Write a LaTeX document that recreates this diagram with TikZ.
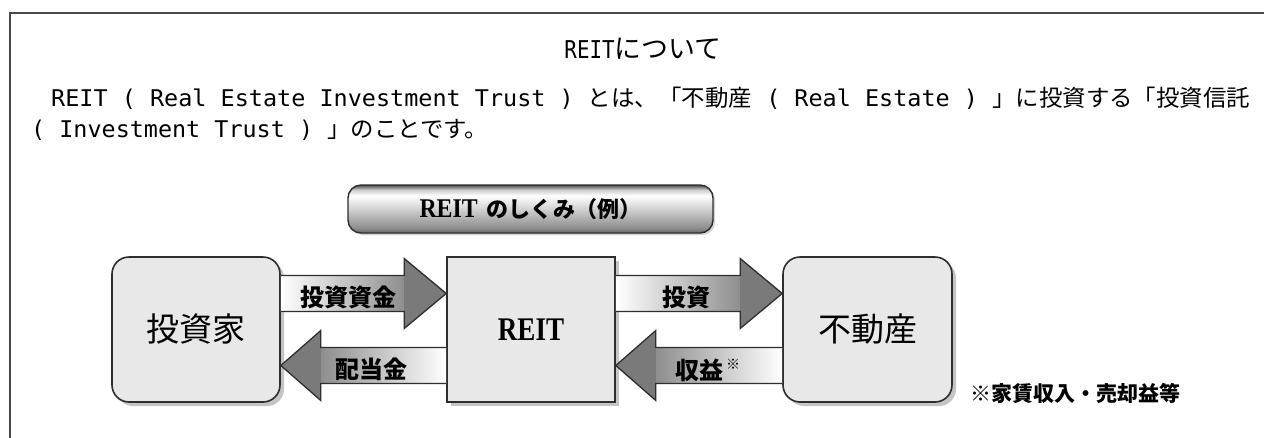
\documentclass[tikz,border=0pt]{standalone}
\usepackage{fontspec}
\usepackage{graphicx}
\usetikzlibrary{calc,shadows}
\newfontfamily\jp{Noto Sans CJK JP}
\newfontfamily\mn{DejaVu Sans Mono}
\newfontfamily\sr{Liberation Serif}
\definecolor{boxfill}{HTML}{E8E8E8}
\definecolor{edgecol}{HTML}{2E2E2E}
\definecolor{headcol}{HTML}{7A7A7A}
\definecolor{shaftend}{HTML}{8E8E8E}
\definecolor{framecol}{HTML}{4A4A4A}
\pgfdeclareverticalshading{pillshade}{100bp}{color(0bp)=(black!60); color(25bp)=(black!60); color(30bp)=(black!45); color(50bp)=(black!18); color(64bp)=(white); color(70bp)=(black!20); color(75bp)=(black!70); color(100bp)=(black!70)}
\newcommand\arrowR[4]{%
  \shade[left color=white,right color=shaftend] ($(#1.east)+(0,#3-18)$) rectangle ($(#2.west)+(-42,#3+18)$);
  \fill[headcol] ($(#2.west)+(-42,#3-35)$) -- ($(#2.west)+(0,#3)$) -- ($(#2.west)+(-42,#3+35)$) -- cycle;
  \draw[arrline] ($(#1.east)+(0,#3-18)$) -- ($(#2.west)+(-42,#3-18)$) -- ($(#2.west)+(-42,#3-35)$) -- ($(#2.west)+(0,#3)$) -- ($(#2.west)+(-42,#3+35)$) -- ($(#2.west)+(-42,#3+18)$) -- ($(#1.east)+(0,#3+18)$);
  \coordinate (#4) at ($(#1.east)!0.5!($(#2.west)+(-42,0)$)+(0,#3)$);
}
\newcommand\arrowL[4]{%
  \shade[left color=shaftend,right color=white] ($(#2.east)+(40,#3-18)$) rectangle ($(#1.west)+(0,#3+18)$);
  \fill[headcol] ($(#2.east)+(40,#3-35)$) -- ($(#2.east)+(0,#3)$) -- ($(#2.east)+(40,#3+35)$) -- cycle;
  \draw[arrline] ($(#1.west)+(0,#3-18)$) -- ($(#2.east)+(40,#3-18)$) -- ($(#2.east)+(40,#3-35)$) -- ($(#2.east)+(0,#3)$) -- ($(#2.east)+(40,#3+35)$) -- ($(#2.east)+(40,#3+18)$) -- ($(#1.west)+(0,#3+18)$);
  \coordinate (#4) at ($(#1.west)!0.5!($(#2.east)+(40,0)$)+(0,#3)$);
}
\begin{document}
\begin{tikzpicture}[x=1pt,y=-1pt,
  rbox/.style={draw=edgecol,line width=1.6pt,fill=boxfill,rounded corners=17pt,minimum width=168pt,minimum height=145pt,inner sep=0pt,drop shadow={shadow xshift=4pt,shadow yshift=-4pt,fill=black!45}},
  sbox/.style={rbox,sharp corners},
  pill/.style={draw=edgecol,line width=1.4pt,shade,shading=pillshade,rounded corners=13pt,minimum width=365pt,minimum height=48pt,inner sep=0pt,drop shadow={shadow xshift=2pt,shadow yshift=-2pt,fill=black!35}},
  arrline/.style={draw=edgecol,line width=1.3pt,line join=miter},
  lab/.style={inner sep=0pt,font=\jp\bfseries\fontsize{24}{24}\selectfont},
  txt/.style={inner sep=0pt,anchor=base west}]
\useasboundingbox (0,0) rectangle (1264,437);
\fill[white] (0,0) rectangle (1264,437);
\draw[framecol,line width=2.5pt,line join=miter] (10,445) -- (10,13) -- (1275,13);
% texts
\node[inner sep=0pt,anchor=base] (title) at (643,58) {\resizebox{157pt}{!}{{\mn\fontsize{21}{21}\selectfont\scalebox{0.85}[1]{REIT}}{\jp\fontsize{23}{23}\selectfont について}}};
\node[txt] (l1) at (51,106) {\resizebox{1199pt}{\height}{\fontsize{23}{23}\selectfont{\mn REIT ( Real Estate Investment Trust ) }{\jp とは、「不動産}{\mn\ ( Real Estate ) }{\jp 」に投資する「投資信託}}};
\node[txt] (l2) at (31,137) {\scalebox{1.018}[1]{\fontsize{23}{23}\selectfont{\mn ( Investment Trust ) }{\jp 」のことです。}}};
% diagram
\node[pill] (hdr) at (530.5,209) {{\sr\bfseries\fontsize{27}{27}\selectfont\scalebox{0.88}[1]{REIT}}\hspace{9pt}{\jp\bfseries\fontsize{22}{22}\selectfont のしくみ（例）}};
\node[rbox] (inv) at (196,329.5) {\jp\fontsize{33}{33}\selectfont 投資家};
\node[sbox] (reit) at (531,329.5) {\sr\bfseries\fontsize{33}{33}\selectfont\scalebox{0.82}[1]{REIT}};
\node[rbox,minimum width=169pt] (fud) at (867.5,329.5) {\jp\fontsize{33}{33}\selectfont 不動産};
\arrowR{inv}{reit}{-36}{a1}
\arrowL{reit}{inv}{36}{a2}
\arrowR{reit}{fud}{-36}{a3}
\arrowL{fud}{reit}{36}{a4}
\node[lab] (t1) at ($(a1)+(6,4)$) {投資資金};
\node[lab] (t2) at ($(a2)+(-12,4)$) {配当金};
\node[lab] (t3) at ($(a3)+(8,4)$) {投資};
\node[lab] (t4) at ($(a4)+(-20,5)$) {収益};
\node[inner sep=0pt,font=\jp\bfseries\fontsize{14}{14}\selectfont] (t4s) at ($(t4.north east)+(10,5)$) {※};
\node[inner sep=0pt,font=\jp\bfseries\fontsize{21}{21}\selectfont] (fn) at (1075,393) {※家賃収入・売却益等};
\end{tikzpicture}
\end{document}
